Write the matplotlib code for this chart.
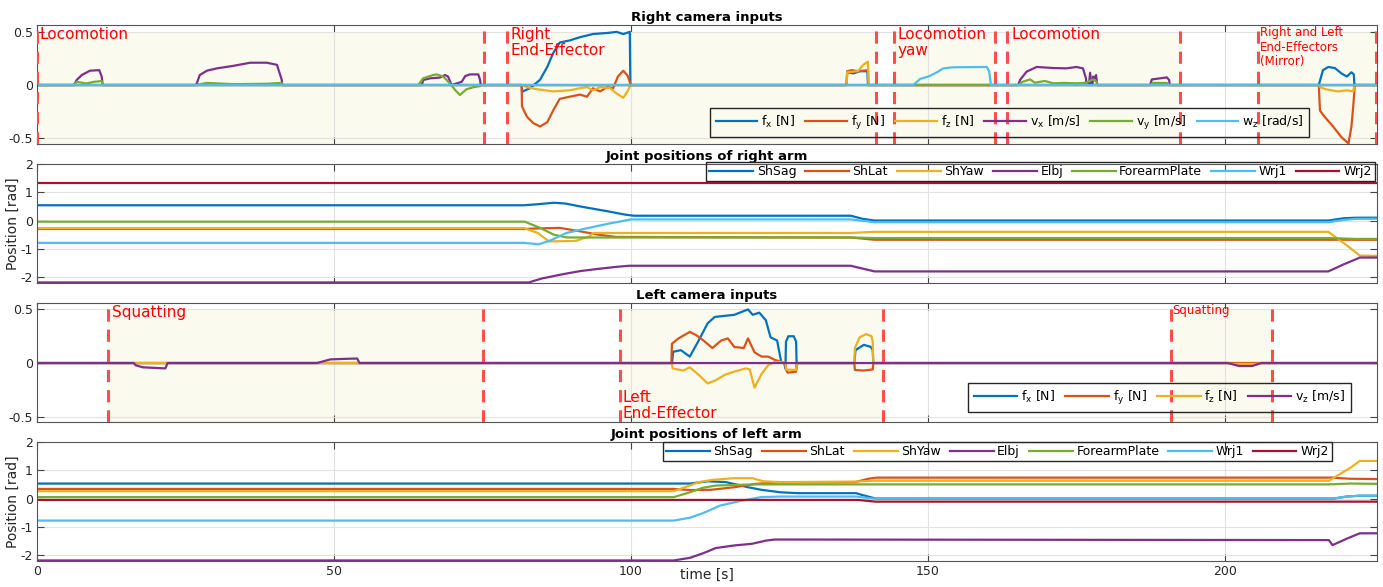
import matplotlib
matplotlib.use('Agg')
import matplotlib.pyplot as plt

plt.rcParams['font.family'] = 'DejaVu Sans'
plt.rcParams['axes.unicode_minus'] = False

# colores estilo MATLAB
C_BLUE, C_ORANGE, C_YELLOW = '#0072BD', '#D95319', '#EDB120'
C_PURPLE, C_GREEN, C_CYAN, C_RED = '#7E2F8E', '#77AC30', '#4DBEEE', '#A2142F'
EV_RED = '#ff4d4d'
SHADE = '#fafaee'

T_END = 225.6

# ---------------- Right camera inputs (t, valor) ----------------
rc_fx = [(0, 0), (81.6, 0), (81.65, -0.063), (83.0, -0.03), (84.7, 0.05), (85.9, 0.17), (86.9, 0.3),
         (88.0, 0.4), (89.7, 0.42), (91.4, 0.45), (93.6, 0.48), (96.0, 0.49), (97.6, 0.5), (98.7, 0.48),
         (99.8, 0.5), (99.9, 0), (136.3, 0), (136.4, 0.12), (137.5, 0.11), (138.5, 0.13), (139.8, 0.13),
         (139.9, 0), (215.8, 0), (216.5, 0.14), (217.4, 0.17), (218.5, 0.16), (219.6, 0.11), (220.5, 0.08),
         (221.3, 0.12), (221.7, 0.1), (221.8, 0), (T_END, 0)]
rc_fy = [(0, 0), (81.6, 0), (81.65, -0.2), (82.5, -0.3), (83.6, -0.36), (84.7, -0.39), (85.9, -0.35),
         (86.9, -0.24), (88.0, -0.13), (89.7, -0.11), (91.4, -0.09), (92.6, -0.11), (93.6, -0.03),
         (94.8, -0.06), (96.0, -0.02), (97.0, -0.03), (97.8, 0.08), (98.7, 0.135), (99.4, 0.09),
         (99.8, 0.03), (99.9, 0), (136.3, 0), (136.4, 0.13), (137.2, 0.14), (138.2, 0.13), (139.9, 0.14),
         (140.0, 0), (215.8, 0), (216.0, -0.24), (216.8, -0.3), (218.2, -0.39), (219.6, -0.49),
         (220.8, -0.55), (221.3, -0.39), (221.6, -0.2), (221.8, -0.05), (221.85, 0), (T_END, 0)]
rc_fz = [(0, 0), (81.6, 0), (82.5, -0.02), (84.2, -0.04), (86.9, -0.06), (89.7, -0.05), (91.4, -0.03),
         (92.6, -0.02), (93.6, -0.05), (94.8, -0.02), (96.5, -0.03), (97.6, -0.08), (98.7, -0.12),
         (99.5, -0.05), (99.9, 0), (136.3, 0), (136.4, 0.12), (138.2, 0.13), (139.1, 0.19), (139.9, 0.22),
         (140.0, 0), (215.8, 0), (216.0, -0.02), (217.0, -0.04), (219.0, -0.06), (220.5, -0.05),
         (221.6, -0.06), (221.8, 0), (T_END, 0)]
rc_vx = [(0, 0), (6.23, 0), (6.68, 0.047), (7.53, 0.094), (8.92, 0.135), (10.49, 0.14), (10.89, 0.08),
         (11.06, 0), (26.8, 0), (27.4, 0.094), (28.6, 0.135), (30.3, 0.157), (33.0, 0.18), (35.9, 0.21),
         (38.7, 0.21), (40.4, 0.19), (41.2, 0.05), (41.3, 0), (64.8, 0), (65.0, 0.047), (66.2, 0.063),
         (67.8, 0.07), (68.7, 0.094), (69.2, 0.08), (69.8, 0), (71.5, 0.03), (72.1, 0.085), (72.9, 0.1),
         (74.3, 0.1), (74.6, 0.047), (74.7, 0), (165.2, 0), (165.5, 0.047), (166.6, 0.126), (168.3, 0.17),
         (171.1, 0.16), (173.3, 0.157), (175.0, 0.17), (176.1, 0.157), (176.6, 0.063), (176.7, 0),
         (177.1, 0), (177.3, 0.116), (177.5, 0), (177.7, 0), (177.8, 0.08), (178.0, 0.06), (178.3, 0.094),
         (178.5, 0), (187.4, 0), (187.7, 0.053), (189.1, 0.063), (190.2, 0.072), (190.6, 0.047),
         (190.7, 0), (T_END, 0)]
rc_vy = [(0, 0), (6.23, 0), (6.68, 0.03), (8.3, 0.015), (9.6, 0.03), (10.9, 0.038), (11.06, 0),
         (26.8, 0), (28.6, 0.02), (33.0, 0.008), (38.7, 0.012), (41.2, 0.02), (41.3, 0), (64.2, 0),
         (65.0, 0.063), (66.7, 0.094), (67.3, 0.1), (68.4, 0.08), (69.5, 0.016), (70.4, -0.047),
         (71.2, -0.094), (72.3, -0.04), (73.5, -0.02), (74.6, -0.01), (74.7, 0), (165.2, 0),
         (165.9, 0.03), (167.2, 0.053), (168.0, 0.022), (169.7, 0.038), (171.1, 0.016), (172.8, 0.02),
         (175.0, 0.016), (176.6, 0.02), (177.3, 0.04), (177.8, 0.053), (178.4, 0.03), (178.5, 0),
         (187.4, 0), (187.9, 0.02), (190.2, 0.02), (190.7, 0), (T_END, 0)]
rc_wz = [(0, 0), (147.5, 0), (148.7, 0.057), (150.3, 0.085), (151.7, 0.126), (152.6, 0.157),
         (154.2, 0.167), (159.9, 0.17), (160.3, 0.13), (160.6, 0), (T_END, 0)]

# ---------------- Joint positions of right arm ----------------
ra_shsag = [(0, 0.54), (82, 0.54), (84.5, 0.58), (87, 0.63), (89, 0.6), (91.4, 0.5), (96, 0.33),
            (99, 0.21), (100.5, 0.17), (137, 0.17), (139, 0.06), (141, 0.0), (217.4, 0.0), (220, 0.08),
            (222, 0.1), (T_END, 0.1)]
ra_shlat = [(0, -0.3), (82, -0.3), (84, -0.28), (88, -0.26), (91.4, -0.38), (94.5, -0.5), (97.5, -0.58),
            (137, -0.6), (141, -0.68), (T_END, -0.68)]
ra_shyaw = [(0, -0.27), (82, -0.27), (84.3, -0.44), (86.2, -0.74), (90.7, -0.72), (93, -0.56),
            (93.7, -0.44), (137, -0.44), (141, -0.4), (217.4, -0.4), (220.4, -0.86), (222.7, -1.24),
            (T_END, -1.25)]
ra_elbj = [(0, -2.19), (82.8, -2.19), (85, -2.05), (88.5, -1.9), (91.4, -1.79), (94.5, -1.71),
           (97.5, -1.64), (99.7, -1.6), (137, -1.6), (141, -1.8), (217.4, -1.8), (220, -1.55),
           (222.7, -1.31), (T_END, -1.31)]
ra_forearm = [(0, -0.04), (82.1, -0.04), (84.7, -0.26), (87, -0.5), (89.2, -0.6), (137, -0.6),
              (141, -0.62), (217.4, -0.62), (222, -0.65), (T_END, -0.65)]
ra_wrj1 = [(0, -0.79), (82, -0.79), (84.5, -0.84), (86.5, -0.7), (89, -0.45), (92, -0.3), (96, -0.12),
           (100, 0.04), (137, 0.04), (141, -0.06), (217.4, -0.06), (220, 0.02), (222, 0.06), (T_END, 0.06)]
ra_wrj2 = [(0, 1.32), (T_END, 1.32)]

# ---------------- Left camera inputs ----------------
lc_fx = [(0, 0), (106.9, 0), (107.1, 0.105), (108.4, 0.12), (109.9, 0.06), (111.4, 0.21), (112.9, 0.37),
         (114.1, 0.43), (117.4, 0.45), (119.7, 0.5), (120.5, 0.45), (121.6, 0.47), (122.7, 0.4),
         (123.5, 0.24), (124.6, 0.21), (125.3, 0.01), (125.8, 0), (126.0, -0.05), (126.1, 0.2),
         (126.5, 0.25), (127.4, 0.25), (127.8, 0.2), (127.9, -0.04), (128.0, 0), (137.6, 0),
         (137.8, 0.12), (139.2, 0.17), (140.4, 0.15), (140.7, 0.12), (140.8, 0), (T_END, 0)]
lc_fy = [(0, 0), (106.8, 0), (106.9, 0.18), (108.0, 0.23), (109.9, 0.29), (111.0, 0.26), (112.2, 0.21),
         (113.7, 0.14), (115.2, 0.21), (116.3, 0.23), (117.4, 0.15), (119.0, 0.14), (119.7, 0.23),
         (120.8, 0.1), (122.0, 0.06), (123.1, 0.06), (124.2, 0.03), (125.3, 0.01), (126.0, 0),
         (126.1, -0.065), (126.4, -0.09), (127.8, -0.08), (128.0, 0), (137.6, 0), (137.7, -0.065),
         (139.2, -0.07), (140.7, -0.06), (140.8, 0), (T_END, 0)]
lc_fz = [(0, 0), (106.9, 0), (107.0, -0.05), (108.8, -0.07), (109.9, -0.04), (111.4, -0.11),
         (112.9, -0.19), (114.3, -0.16), (115.8, -0.11), (117.4, -0.08), (119.3, -0.05), (120.0, -0.06),
         (120.8, -0.23), (122.0, -0.1), (123.1, -0.02), (124.2, 0.01), (125.3, 0.01), (126.0, 0),
         (126.1, -0.06), (127.8, -0.065), (128.0, 0), (137.6, 0), (137.7, 0.14), (138.5, 0.24),
         (139.6, 0.27), (140.5, 0.25), (140.7, 0.2), (140.8, 0), (200.5, 0), (201.0, -0.008),
         (205.5, -0.008), (206.1, 0), (T_END, 0)]
lc_vz = [(0, 0), (16.3, 0), (16.6, -0.02), (17.8, -0.04), (21.6, -0.05), (22.0, 0), (47.1, 0),
         (49.4, 0.034), (52.4, 0.04), (53.9, 0.042), (54.3, 0), (200.5, 0), (202.4, -0.028),
         (204.6, -0.028), (206.1, 0), (T_END, 0)]

# ---------------- Joint positions of left arm ----------------
la_shsag = [(0, 0.53), (107.2, 0.53), (109.9, 0.53), (113, 0.61), (116, 0.58), (119.7, 0.4),
            (121.9, 0.31), (125.2, 0.22), (128.2, 0.19), (137.9, 0.19), (139, 0.12), (141.2, 0.0),
            (218.3, 0.0), (220.5, 0.07), (222.8, 0.1), (T_END, 0.1)]
la_shlat = [(0, 0.34), (107.2, 0.34), (110, 0.3), (113.5, 0.31), (117.4, 0.4), (121, 0.52), (125, 0.57),
            (137.7, 0.58), (140, 0.7), (141.4, 0.74), (218, 0.74), (221, 0.7), (T_END, 0.69)]
la_shyaw = [(0, 0.26), (107.2, 0.26), (109.9, 0.46), (111.4, 0.58), (113.7, 0.66), (117.4, 0.72),
            (120.4, 0.72), (122.3, 0.61), (125.2, 0.58), (137.9, 0.6), (141, 0.63), (217.5, 0.63),
            (221.2, 1.1), (222.7, 1.33), (T_END, 1.33)]
la_elbj = [(0, -2.19), (107.2, -2.19), (109.9, -2.1), (112.1, -1.94), (114.3, -1.75), (117.4, -1.66),
           (120.4, -1.6), (122.7, -1.49), (124.2, -1.45), (217.5, -1.47), (218.1, -1.65), (220.4, -1.43),
           (222.7, -1.23), (T_END, -1.23)]
la_forearm = [(0, 0.05), (107.2, 0.05), (109.9, 0.22), (112.1, 0.38), (114.3, 0.46), (121, 0.5),
              (217.5, 0.5), (221, 0.53), (T_END, 0.52)]
la_wrj1 = [(0, -0.78), (107.2, -0.78), (109.9, -0.68), (112.1, -0.52), (115, -0.25), (118.1, -0.1),
           (121.9, 0.05), (125.2, 0.07), (137.9, 0.07), (140.7, 0.0), (218.3, 0.0), (220.5, 0.07),
           (222.7, 0.1), (T_END, 0.1)]
la_wrj2 = [(0, -0.05), (138.2, -0.05), (141.2, -0.11), (T_END, -0.11)]

# ---------------- eventos / fases ----------------
rc_events = [0, 75.3, 79.1, 141.2, 144.3, 161.3, 163.3, 192.4, 205.6, 225.4]
rc_phases = [(0, 75.3), (79.1, 141.2), (144.3, 161.3), (163.3, 192.4), (205.6, 225.4)]
lc_events = [12.0, 75.1, 98.1, 142.4, 190.9, 208.0]
lc_phases = [(12.0, 75.1), (98.1, 142.4), (190.9, 208.0)]

joint_names = ['ShSag', 'ShLat', 'ShYaw', 'Elbj', 'ForearmPlate', 'Wrj1', 'Wrj2']
joint_colors = [C_BLUE, C_ORANGE, C_YELLOW, C_PURPLE, C_GREEN, C_CYAN, C_RED]

W, H = 1383, 587
fig = plt.figure(figsize=(W / 100, H / 100), dpi=100)


def panel(top, bottom):
    ax = fig.add_axes([37 / W, 1 - bottom / H, 1340 / W, (bottom - top) / H])
    ax.set_xlim(0, T_END)
    ax.set_xticks([0, 50, 100, 150, 200])
    ax.grid(True, color='#e2e2e2', lw=0.8)
    ax.set_axisbelow(True)
    ax.tick_params(direction='in', length=5, top=True, right=True, color='#444444',
                   labelsize=9, labelcolor='#262626', pad=3)
    for s in ax.spines.values():
        s.set_color('#555555')
        s.set_linewidth(0.8)
    return ax


def draw(ax, serie, color, label):
    t = [p[0] for p in serie]
    v = [p[1] for p in serie]
    ax.plot(t, v, color=color, lw=1.6, label=label, zorder=2)


def fases(ax, phases, events, ylo, yhi):
    frac = (0.5 - ylo) / (yhi - ylo)
    for a, b in phases:
        ax.axvspan(a, b, ymin=0, ymax=frac, color=SHADE, lw=0, zorder=0.3)
    for e in events:
        ax.axvline(e, color=EV_RED, lw=2.2, ls=(0, (4, 2.6)), zorder=3)


def leyenda(ax, x0, y0, ncol, hl, cs, pad, tp=0.3):
    ax.legend(loc='upper left', bbox_to_anchor=(x0 / W, 1 - y0 / H), bbox_transform=fig.transFigure,
              ncol=ncol, fontsize=9, frameon=True, fancybox=False, edgecolor='#262626',
              facecolor='none', framealpha=1, borderaxespad=0, handlelength=hl, handletextpad=tp,
              columnspacing=cs, borderpad=pad)


TXT = dict(color='#ff0000', va='top', ha='left', zorder=4)

# ---- panel 1
ylo, yhi = -0.555, 0.565
ax1 = panel(25, 144)
ax1.set_ylim(ylo, yhi)
ax1.set_yticks([-0.5, 0, 0.5])
ax1.set_yticklabels(['-0.5', '0', '0.5'])
ax1.tick_params(labelbottom=False)
fases(ax1, rc_phases, rc_events, ylo, yhi)
draw(ax1, rc_fx, C_BLUE, r'f$_{\mathrm{x}}$ [N]')
draw(ax1, rc_fy, C_ORANGE, r'f$_{\mathrm{y}}$ [N]')
draw(ax1, rc_fz, C_YELLOW, r'f$_{\mathrm{z}}$ [N]')
draw(ax1, rc_vx, C_PURPLE, r'v$_{\mathrm{x}}$ [m/s]')
draw(ax1, rc_vy, C_GREEN, r'v$_{\mathrm{y}}$ [m/s]')
draw(ax1, rc_wz, C_CYAN, r'w$_{\mathrm{z}}$ [rad/s]')
ax1.set_title('Right camera inputs', fontsize=9.5, fontweight='bold', pad=3)
ax1.text(0.5, 0.55, 'Locomotion', fontsize=11, **TXT)
ax1.text(79.8, 0.55, 'Right\nEnd-Effector', fontsize=11, linespacing=1.1, **TXT)
ax1.text(144.8, 0.55, 'Locomotion\nyaw', fontsize=11, linespacing=1.1, **TXT)
ax1.text(164.0, 0.55, 'Locomotion', fontsize=11, **TXT)
ax1.text(205.9, 0.555, 'Right and Left\nEnd-Effectors\n(Mirror)', fontsize=8.5, linespacing=1.15, **TXT)
leyenda(ax1, 710, 108, 6, 3.35, 0.8, 0.45)

# ---- panel 2
ax2 = panel(164, 283)
ax2.set_ylim(-2.21, 2)
ax2.set_yticks([-2, -1, 0, 1, 2])
ax2.tick_params(labelbottom=False)
for serie, c, n in zip([ra_shsag, ra_shlat, ra_shyaw, ra_elbj, ra_forearm, ra_wrj1, ra_wrj2],
                       joint_colors, joint_names):
    draw(ax2, serie, c, n)
ax2.set_title('Joint positions of right arm', fontsize=9.5, fontweight='bold', pad=3)
ax2.set_ylabel('Position [rad]', fontsize=10, color='#262626')
ax2.yaxis.set_label_coords(-0.0127, 0.5)
leyenda(ax2, 706, 162, 7, 3.5, 0.7, 0.25)

# ---- panel 3
ylo3, yhi3 = -0.55, 0.56
ax3 = panel(303, 422)
ax3.set_ylim(ylo3, yhi3)
ax3.set_yticks([-0.5, 0, 0.5])
ax3.set_yticklabels(['-0.5', '0', '0.5'])
ax3.tick_params(labelbottom=False)
fases(ax3, lc_phases, lc_events, ylo3, yhi3)
draw(ax3, lc_fx, C_BLUE, r'f$_{\mathrm{x}}$ [N]')
draw(ax3, lc_fy, C_ORANGE, r'f$_{\mathrm{y}}$ [N]')
draw(ax3, lc_fz, C_YELLOW, r'f$_{\mathrm{z}}$ [N]')
draw(ax3, lc_vz, C_PURPLE, r'v$_{\mathrm{z}}$ [m/s]')
ax3.set_title('Left camera inputs', fontsize=9.5, fontweight='bold', pad=3)
ax3.text(12.6, 0.545, 'Squatting', fontsize=11, **TXT)
ax3.text(98.65, -0.25, 'Left\nEnd-Effector', fontsize=11, linespacing=1.1, **TXT)
ax3.text(191.2, 0.55, 'Squatting', fontsize=8.5, **TXT)
leyenda(ax3, 968, 383, 4, 3.5, 0.8, 0.45)

# ---- panel 4
ax4 = panel(442, 561)
ax4.set_ylim(-2.21, 2)
ax4.set_yticks([-2, -1, 0, 1, 2])
for serie, c, n in zip([la_shsag, la_shlat, la_shyaw, la_elbj, la_forearm, la_wrj1, la_wrj2],
                       joint_colors, joint_names):
    draw(ax4, serie, c, n)
ax4.set_title('Joint positions of left arm', fontsize=9.5, fontweight='bold', pad=3)
ax4.set_ylabel('Position [rad]', fontsize=10, color='#262626')
ax4.yaxis.set_label_coords(-0.0127, 0.5)
ax4.set_xlabel('time [s]', fontsize=10, color='#262626')
ax4.xaxis.set_label_coords(0.5, -0.06)
ax4.xaxis.label.set_va('top')
leyenda(ax4, 663, 442, 7, 3.5, 0.7, 0.25)

fig.savefig('out.png', dpi=100)
